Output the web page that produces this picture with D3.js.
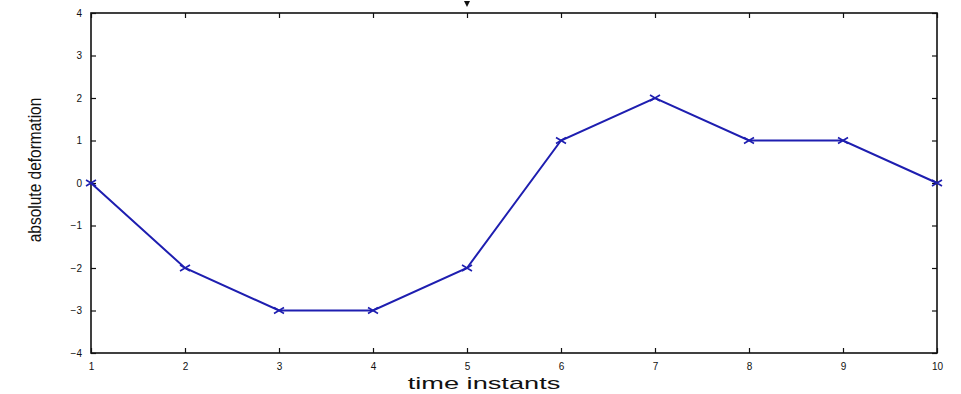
<!DOCTYPE html>
<html>
<head>
<meta charset="utf-8">
<script src="https://cdn.jsdelivr.net/npm/d3@7"></script>
<style>
  html, body { margin: 0; padding: 0; background: #fff; }
  svg { display: block; }
  text { font-family: "Liberation Sans", Arial, sans-serif; }
</style>
</head>
<body>
<svg id="chart" width="961" height="394"></svg>
<script>
// Absolute deformation measured at each time instant
const timeInstants = [1, 2, 3, 4, 5, 6, 7, 8, 9, 10];
const deformation = [0, -2, -3, -3, -2, 1, 2, 1, 1, 0];
const xTicks = [1, 2, 3, 4, 5, 6, 7, 8, 9, 10];
const yTicks = [-4, -3, -2, -1, 0, 1, 2, 3, 4];

const margin = { left: 91, right: 24, top: 13, bottom: 41 };
const width = 961, height = 394;
const svg = d3.select("#chart");

const x = d3.scaleLinear().domain([1, 10]).range([margin.left, width - margin.right]);
const y = d3.scaleLinear().domain([-4, 4]).range([height - margin.bottom, margin.top]);

const tickLen = 5;

// Frame
svg.append("rect")
  .attr("x", x(1)).attr("y", y(4))
  .attr("width", x(10) - x(1)).attr("height", y(-4) - y(4))
  .attr("fill", "none").attr("stroke", "#111").attr("stroke-width", 1.6);

// Bottom axis (ticks pointing inward) and matching top ticks
const axisB = svg.append("g").attr("transform", `translate(0,${y(-4)})`)
  .call(d3.axisBottom(x).tickValues(xTicks).tickSize(-tickLen).tickPadding(tickLen + 5).tickFormat(d3.format("d")));
const axisT = svg.append("g").attr("transform", `translate(0,${y(4)})`)
  .call(d3.axisTop(x).tickValues(xTicks).tickSize(-tickLen).tickFormat(""));

// Left axis (ticks inward) and matching right ticks
const axisL = svg.append("g").attr("transform", `translate(${x(1)},0)`)
  .call(d3.axisLeft(y).tickValues(yTicks).tickSize(-tickLen).tickPadding(tickLen + 4).tickFormat(d3.format("d")));
const axisR = svg.append("g").attr("transform", `translate(${x(10)},0)`)
  .call(d3.axisRight(y).tickValues(yTicks).tickSize(-tickLen).tickFormat(""));

[axisB, axisT, axisL, axisR].forEach(g => {
  g.select(".domain").remove();
  g.selectAll(".tick line").attr("stroke", "#111").attr("stroke-width", 1.2);
  g.selectAll(".tick text").attr("fill", "#111").style("font-size", "10px")
    .style("font-family", "'Liberation Sans', Arial, sans-serif");
});

// Small marker above the frame
svg.append("path")
  .attr("d", `M${x(5) - 3},1 L${x(5) + 3},1 L${x(5)},7 Z`)
  .attr("fill", "#111");

// Series line
const line = d3.line().x((d, i) => x(timeInstants[i])).y(d => y(d));
svg.append("path")
  .datum(deformation)
  .attr("d", line)
  .attr("fill", "none")
  .attr("stroke", "#1e1eb0")
  .attr("stroke-width", 2);

// Cross markers
const m = 5;
svg.append("g").selectAll("path")
  .data(deformation)
  .join("path")
  .attr("d", (d, i) => {
    const cx = x(timeInstants[i]), cy = y(d);
    return `M${cx - m},${cy - m * 0.6}L${cx + m},${cy + m * 0.6}M${cx - m},${cy + m * 0.6}L${cx + m},${cy - m * 0.6}`;
  })
  .attr("stroke", "#1e1eb0")
  .attr("stroke-width", 1.6)
  .attr("fill", "none");

// Axis titles (horizontally stretched lettering)
svg.append("text")
  .attr("transform", "translate(484,389) scale(1.6,1)")
  .attr("text-anchor", "middle")
  .style("font-size", "17px").attr("fill", "#111")
  .text("time instants");

svg.append("text")
  .attr("transform", `translate(41,${y(0) - 13}) rotate(-90) scale(1,1.15)`)
  .attr("text-anchor", "middle")
  .style("font-size", "15.5px").attr("fill", "#111")
  .text("absolute deformation");
</script>
</body>
</html>
